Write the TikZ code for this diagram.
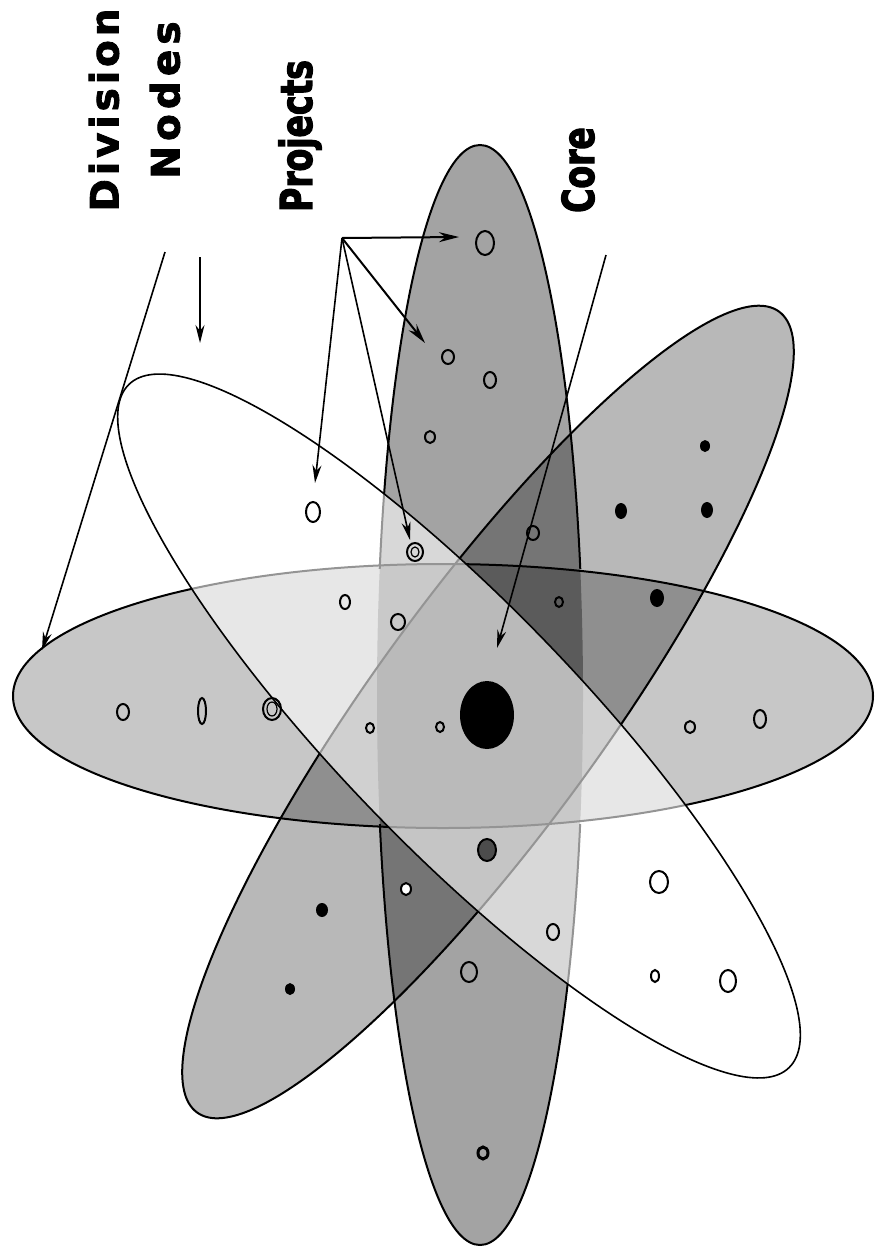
\documentclass[tikz,border=0pt]{standalone}
\usepackage{fontspec}
\usetikzlibrary{arrows.meta}
\newfontfamily\spacedfontA[LetterSpace=10,FakeBold=2.2]{DejaVu Sans}
\newfontfamily\spacedfontB[LetterSpace=13,FakeBold=2.2]{DejaVu Sans}
\newfontfamily\narrowfont[FakeStretch=0.75,FakeBold=2.5]{DejaVu Sans}
\begin{document}
\begin{tikzpicture}[x=1pt,y=-1pt,
  tone/.style={fill=black,draw=none},
  rim/.style={draw=black,line width=2pt},
  ring/.style={draw=black,line width=2pt},
  arr/.style={-{Stealth[length=20pt,width=10pt]},line width=2pt},
  thinarr/.style={-{Stealth[length=18pt,width=9pt]},line width=1.6pt},
  lbl/.style={rotate=90,inner sep=0pt,font=\narrowfont\bfseries\fontsize{44}{48}\selectfont},
  wlblA/.style={rotate=90,inner sep=0pt,font=\spacedfontA\bfseries\fontsize{39}{42}\selectfont},
  wlblB/.style={rotate=90,inner sep=0pt,font=\spacedfontB\bfseries\fontsize{39}{42}\selectfont}]
\useasboundingbox (0,0) rectangle (882,1253);
\fill[white] (0,0) rectangle (882,1253);

% ---- fills (multiplying greys) ----
\fill[tone,fill opacity=0.22] (443,696) ellipse [x radius=430, y radius=132];
\fill[tone,fill opacity=0.36] (480,695) ellipse [x radius=103, y radius=550];
\fill[tone,fill opacity=0.28,rotate around={54:(488,712)}] (488,712) ellipse [x radius=495, y radius=116];

% ---- outlines ----
\draw[rim] (443,696) ellipse [x radius=430, y radius=132];
\begin{scope}
  \clip (0,0) rectangle (882,568);
  \draw[rim] (480,695) ellipse [x radius=103, y radius=550];
\end{scope}
\begin{scope}
  \clip (0,824) rectangle (882,1253);
  \draw[rim] (480,695) ellipse [x radius=103, y radius=550];
\end{scope}
\draw[rim,rotate around={54:(488,712)}] (488,712) ellipse [x radius=495, y radius=116];

% ---- white translucent ellipse ----
\fill[white,fill opacity=0.58,rotate around={-46:(459,726)}] (459,726) ellipse [x radius=475, y radius=121];
\draw[black,line width=1.6pt,rotate around={-46:(459,726)}] (459,726) ellipse [x radius=475, y radius=121];

% ---- project dots ----
\foreach \x/\y/\rx/\ry in {485/243/9/12, 448/357/6/7, 490/380/6/8, 430/437/5/6,
  313/512/7/10, 533/533/6/7, 559/602/4/5, 123/712/6/8, 202/711/4/13,
  345/602/5/7, 398/622/7/8, 370/728/4/5, 440/727/4/5, 690/727/5/6,
  760/719/6/9, 469/972/8/10, 553/932/6/8, 659/882/9/11, 655/976/4/6,
  728/981/8/11}
  \draw[ring] (\x,\y) ellipse [x radius=\rx, y radius=\ry];
\draw[ring,fill=white] (406,889) ellipse [x radius=5, y radius=6];
\draw[ring,line width=3pt] (483,1153) ellipse [x radius=5, y radius=6];
\draw[ring] (272,709) ellipse [x radius=9, y radius=11];
\draw[ring,line width=1.2pt] (272,709) ellipse [x radius=5, y radius=7];
\draw[ring] (415,552) ellipse [x radius=8, y radius=9];
\draw[ring,line width=1.2pt] (415,552) ellipse [x radius=4, y radius=5];
\foreach \x/\y/\rx/\ry in {705/446/5/6, 621/511/6/8, 707/510/6/8, 657/598/7/9,
  322/910/6/7, 290/989/5/6}
  \fill[black] (\x,\y) ellipse [x radius=\rx, y radius=\ry];
\draw[ring,fill=black!70] (487,850) ellipse [x radius=9, y radius=11];
% core
\fill[black] (487,715) ellipse [x radius=27, y radius=34];

% ---- labels ----
\node[wlblA] (division) at (104,110) {Division};
\node[wlblB] (nodes) at (165,100) {Nodes};
\node[lbl] (projects) at (300,136) {Projects};
\node[lbl] (core) at (578,170) {Core};

% ---- connectors ----
\coordinate (dnA) at (165,252);
\coordinate (dnAend) at (42,650);
\coordinate (dnB) at (200,257);
\coordinate (dnBend) at (200,343);
\draw[thinarr] (dnA) -- (dnAend);
\draw[thinarr] (dnB) -- (dnBend);

\coordinate (pj) at (342,238);
\coordinate (pj1) at (459,237);
\coordinate (pj2) at (425,343);
\coordinate (pj3) at (315,483);
\coordinate (pj4) at (410,540);
\draw[arr] (pj) -- (pj1);
\draw[arr] (pj) -- (pj2);
\draw[thinarr] (pj) -- (pj3);
\draw[thinarr] (pj) -- (pj4);

\coordinate (cr) at (606,255);
\coordinate (crend) at (497,648);
\draw[thinarr] (cr) -- (crend);
\end{tikzpicture}
\end{document}
